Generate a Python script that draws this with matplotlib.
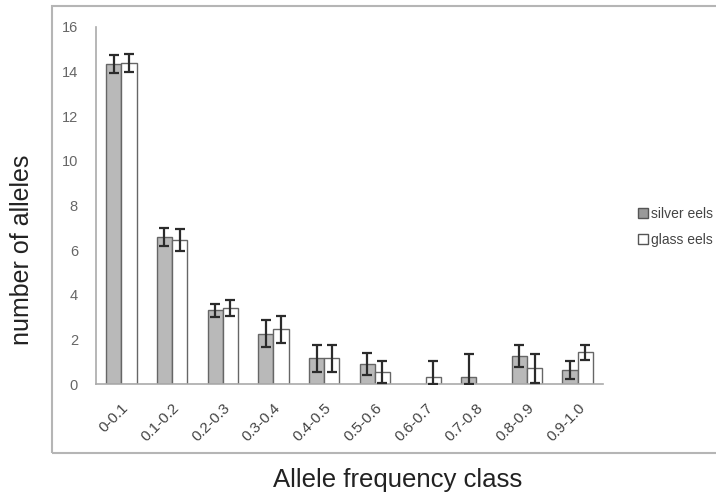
import matplotlib
matplotlib.use("Agg")
import matplotlib.pyplot as plt
import numpy as np
from matplotlib.patches import Rectangle
from matplotlib.lines import Line2D

categories = ["0-0.1", "0.1-0.2", "0.2-0.3", "0.3-0.4", "0.4-0.5",
              "0.5-0.6", "0.6-0.7", "0.7-0.8", "0.8-0.9", "0.9-1.0"]
silver = [14.35, 6.6, 3.3, 2.25, 1.15, 0.9, 0.0, 0.33, 1.25, 0.63]
silver_err = [0.4, 0.4, 0.3, 0.6, 0.6, 0.5, 0.0, 1.0, 0.5, 0.4]
glass = [14.4, 6.45, 3.4, 2.45, 1.15, 0.55, 0.33, 0.0, 0.7, 1.42]
glass_err = [0.4, 0.5, 0.35, 0.6, 0.6, 0.5, 0.7, 0.0, 0.65, 0.35]
yticks = [0, 2, 4, 6, 8, 10, 12, 14, 16]

W, H = 716, 496
fig = plt.figure(figsize=(W / 100, H / 100), dpi=100)
plt.rcParams['font.family'] = ['Liberation Sans', 'DejaVu Sans']

# outer chart frame
fig.patches.append(Rectangle((52 / W, 1 - 453 / H), (W + 5 - 52) / W, (453 - 6) / H,
                             transform=fig.transFigure, fill=False,
                             edgecolor="#b5b5b5", linewidth=1.5))

ax = fig.add_axes([96 / W, 1 - 384 / H, (603 - 96) / W, (384 - 27) / H])
x = np.arange(len(categories))
bw = 0.3

def draw_series(xs, vals, errs, face):
    vals = np.array(vals, dtype=float)
    errs = np.array(errs, dtype=float)
    nz = vals > 0
    ax.bar(xs[nz], vals[nz], bw, color=face, edgecolor="#666666", linewidth=1.0, zorder=2)
    lo = np.minimum(vals[nz], errs[nz])
    ax.errorbar(xs[nz], vals[nz], yerr=[lo, errs[nz]], fmt="none",
                ecolor="#2b2b2b", elinewidth=1.6, capsize=3.5, capthick=1.6, zorder=3)

draw_series(x - bw / 2, silver, silver_err, "#b9b9b9")
draw_series(x + bw / 2, glass, glass_err, "white")

ax.set_xlim(-0.5, len(categories) - 0.5)
ax.set_ylim(0, 16)
ax.set_yticks(yticks)
ax.set_yticklabels([str(t) for t in yticks], fontsize=10.5, color="#666666")
ax.set_xticks(x)
ax.set_xticklabels(categories, rotation=45, ha="right", rotation_mode="anchor",
                   fontsize=11, color="#444444")
ax.tick_params(axis="y", length=0, pad=13)
ax.tick_params(axis="x", length=0, pad=12)
for s in ["top", "right"]:
    ax.spines[s].set_visible(False)
for s in ["left", "bottom"]:
    ax.spines[s].set_color("#aaaaaa")
    ax.spines[s].set_linewidth(1.2)

fig.text(398 / W, 1 - 480 / H, "Allele frequency class", ha="center", va="center",
         fontsize=18.5, color="#222222")
fig.text(22 / W, 1 - 250 / H, "number of alleles", ha="center", va="center",
         rotation=90, fontsize=18, color="#222222")

handles = [Line2D([], [], marker="s", linestyle="none", markersize=7,
                  markerfacecolor="#9a9a9a", markeredgecolor="#555555"),
           Line2D([], [], marker="s", linestyle="none", markersize=7,
                  markerfacecolor="white", markeredgecolor="#555555")]
fig.legend(handles, ["silver eels", "glass eels"], loc="center left",
           bbox_to_anchor=(622 / W, 1 - 227 / H), frameon=False, fontsize=10,
           handletextpad=0.0, labelspacing=0.9, handlelength=1.2, labelcolor="#444444")

fig.savefig("out.png", dpi=100)
